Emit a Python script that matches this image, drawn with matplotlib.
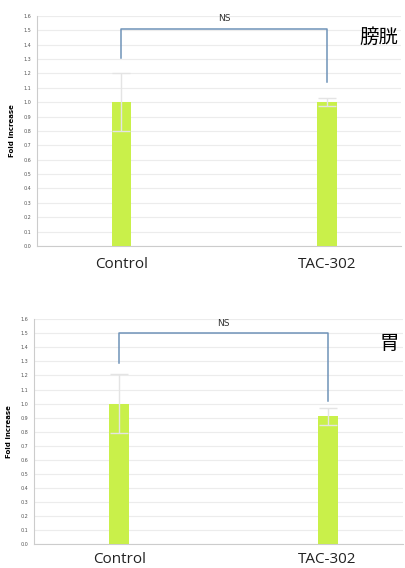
import matplotlib.pyplot as plt
import numpy as np

plt.rcParams['font.family'] = ['DejaVu Sans', 'Noto Sans CJK JP']

# data
groups = ["Control", "TAC-302"]
organs = ["膀胱", "胃"]
organ_y = [1.45, 1.43]
means = [[1.0, 1.0], [1.0, 0.91]]
errors = [[0.2, 0.03], [0.21, 0.06]]
bracket_top = [1.51, 1.50]
bracket_left = [1.31, 1.29]
bracket_right = [1.14, 1.02]
sig_label = ["NS", "NS"]
yticks = np.round(np.arange(0, 1.61, 0.1), 1)

bar_color = '#c9f04a'
err_color = '#e4e4e4'
line_color = '#6f93b8'

fig = plt.figure(figsize=(4.05, 5.68), dpi=100)
ax_boxes = [[0.091, 0.567, 0.90, 0.405],
            [0.084, 0.042, 0.91, 0.396]]
label_pad = [8, 5.5]

for i, box in enumerate(ax_boxes):
    ax = fig.add_axes(box)
    x = np.arange(len(groups))
    ax.bar(x, means[i], width=0.095, color=bar_color, zorder=3)
    ax.errorbar(x, means[i], yerr=errors[i], fmt='none', ecolor=err_color,
                elinewidth=1, capsize=6.5, capthick=1, zorder=4)

    # significance bracket
    ax.plot([0, 0, 1, 1],
            [bracket_left[i], bracket_top[i], bracket_top[i], bracket_right[i]],
            color=line_color, lw=1.1, zorder=5)
    ax.text(0.5, bracket_top[i] + 0.04, sig_label[i], ha='center', va='bottom',
            fontsize=6.5, color='#333333')
    ax.text(1.345, organ_y[i], organs[i], ha='right', va='center',
            fontsize=14, family=['Noto Sans CJK JP'])

    ax.set_xlim(-0.41, 1.36)
    ax.set_ylim(0, 1.6)
    ax.set_yticks(yticks)
    ax.set_yticklabels([f"{t:.1f}" for t in yticks], fontsize=3.5, color='#555555')
    ax.tick_params(axis='y', length=0, pad=4)
    ax.set_xticks(x)
    ax.set_xticklabels(groups, fontsize=11, color='#222222', family=['Open Sans'])
    ax.tick_params(axis='x', length=0, pad=label_pad[i])
    ax.set_ylabel("Fold increase", fontsize=5, fontweight='bold', labelpad=6)
    ax.grid(axis='y', color='#ececec', lw=0.8, zorder=0)
    for s in ['top', 'right']:
        ax.spines[s].set_visible(False)
    for s in ['left', 'bottom']:
        ax.spines[s].set_color('#cccccc')
        ax.spines[s].set_linewidth(0.8)

fig.savefig('out.png', dpi=100)
